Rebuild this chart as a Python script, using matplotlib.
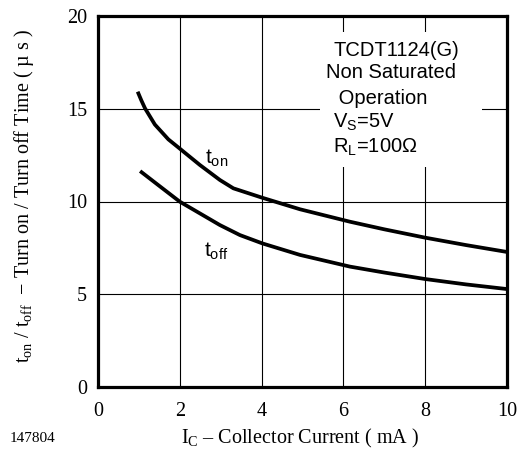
import matplotlib
matplotlib.use("Agg")
import matplotlib.pyplot as plt
from matplotlib.patches import Rectangle

plt.rcParams['mathtext.fontset'] = 'custom'
plt.rcParams['mathtext.rm'] = 'Liberation Serif'
plt.rcParams['mathtext.it'] = 'Liberation Serif:italic'
plt.rcParams['mathtext.sf'] = 'Liberation Sans'

# Data
ic_on = [0.97, 1.06, 1.15, 1.39, 1.72, 2.0, 2.49, 2.98, 3.31, 4.02, 4.94, 6.16, 7.0, 8.0, 9.0, 10.0]
t_on = [15.92, 15.45, 15.02, 14.15, 13.35, 12.85, 11.97, 11.16, 10.71, 10.2, 9.58, 8.91, 8.5, 8.05, 7.65, 7.28]
ic_off = [1.03, 1.47, 2.0, 2.49, 2.98, 3.47, 4.02, 4.94, 6.16, 7.0, 8.0, 9.0, 10.0]
t_off = [11.64, 10.89, 9.99, 9.36, 8.73, 8.19, 7.74, 7.12, 6.49, 6.17, 5.82, 5.53, 5.28]

x_ticks = [0, 2, 4, 6, 8, 10]
y_ticks = [0, 5, 10, 15, 20]
info_lines = ["TCDT1124(G)", "Non Saturated", " Operation", r"$\mathsf{V_S}$=5V", r"$\mathsf{R_L}$=100Ω"]

fig = plt.figure(figsize=(5.19, 4.57), dpi=100)
ax = fig.add_axes([98/519, 1-387/457, (507-98)/519, (387-16)/457])

ax.set_xlim(0, 10)
ax.set_ylim(0, 20)
ax.set_xticks(x_ticks)
ax.set_yticks(y_ticks)
ax.tick_params(length=0, labelsize=14.5)
ax.tick_params(axis='x', pad=11)
ax.tick_params(axis='y', pad=8)
for lab in ax.get_xticklabels() + ax.get_yticklabels():
    lab.set_fontfamily('Liberation Serif')
ax.grid(True, color='black', linewidth=0.8, zorder=1)
for s in ax.spines.values():
    s.set_linewidth(2.3)
    s.set_zorder(6)

ax.add_patch(Rectangle((5.43, 11.86), 3.96, 7.28, facecolor='white', edgecolor='none', zorder=2))

ax.plot(ic_on, t_on, color='black', linewidth=2.7, zorder=4, solid_capstyle='butt', solid_joinstyle='round')
ax.plot(ic_off, t_off, color='black', linewidth=2.7, zorder=4, solid_capstyle='butt', solid_joinstyle='round')

sans = 'Liberation Sans'
ax.text(2.9, 12.35, r"$\mathsf{t_{on}}$", fontsize=15, ha='center', va='center', zorder=5)
ax.text(2.9, 7.3, r"$\mathsf{t_{off}}$", fontsize=15, ha='center', va='center', zorder=5)

ys = [50, 73, 98, 122, 147]
xs = [333, 326, 333, 333, 333]
for txt, xp, yp in zip(info_lines, xs, ys):
    fig.text(xp/519, 1-yp/457, txt, fontsize=14.5, family=sans, ha='left', va='center', zorder=7)

fig.text(300/519, 1-438/457, r"$\mathrm{I_C}$ – Collector Current ( mA )",
         fontsize=14.5, family='Liberation Serif', ha='center', va='center')
fig.text(10/519, 1-438/457, "147804", fontsize=11, family='Liberation Serif', ha='left', va='center')
fig.text(24/519, 1-196/457, r"$\mathrm{t_{on}}$ / $\mathrm{t_{off}}$  − Turn on / Turn off Time ( µ s )",
         fontsize=14.5, family='Liberation Serif', rotation=90, ha='center', va='center')

fig.savefig("out.png", dpi=100)
